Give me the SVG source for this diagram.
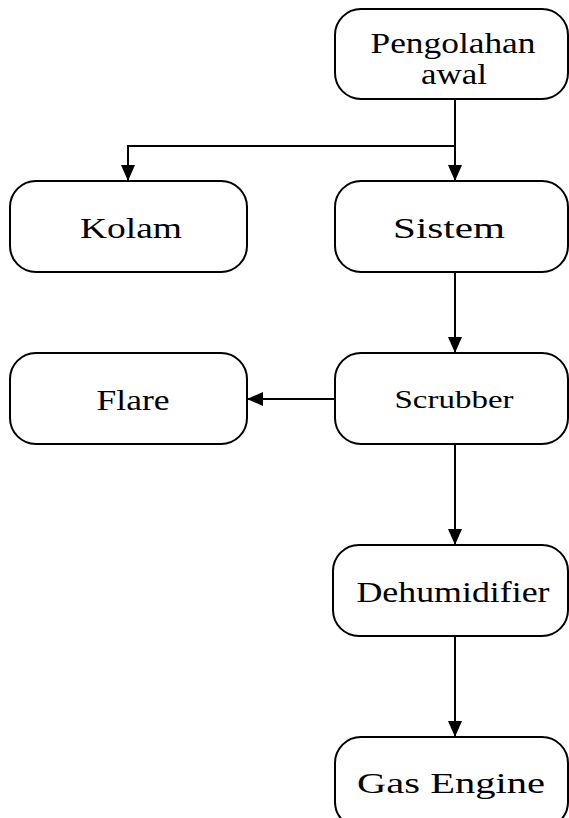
<svg xmlns="http://www.w3.org/2000/svg" width="569" height="818" viewBox="0 0 569 818">
<style>
.box{fill:#fff;stroke:#000;stroke-width:2}
.t{font-family:"Liberation Serif","Times New Roman",serif;font-size:30px;fill:#000;text-anchor:middle}
.s{font-size:25px}
.p{font-size:29px}
.c{fill:none;stroke:#000;stroke-width:2}
</style>
<defs>
<marker id="ah" markerWidth="16" markerHeight="16" viewBox="0 0 16 16" refX="16" refY="8" orient="auto" markerUnits="userSpaceOnUse">
<path d="M0,1 L16,8 L0,15 Z" fill="#000"/>
</marker>
</defs>
<g id="connectors">
<path class="c" d="M455,99 V181" marker-end="url(#ah)"/>
<path class="c" d="M455,146 H128 V181" marker-end="url(#ah)"/>
<path class="c" d="M455,272 V353" marker-end="url(#ah)"/>
<path class="c" d="M335,399 H247" marker-end="url(#ah)"/>
<path class="c" d="M455,444 V545" marker-end="url(#ah)"/>
<path class="c" d="M455,636 V737" marker-end="url(#ah)"/>
</g>
<g id="pengolahan">
<rect class="box" x="335" y="9" width="233" height="90" rx="26"/>
<text class="t p" x="453" y="53" textLength="165" lengthAdjust="spacingAndGlyphs">Pengolahan</text>
<text class="t p" x="454" y="84" textLength="66" lengthAdjust="spacingAndGlyphs">awal</text>
</g>
<g id="kolam">
<rect class="box" x="10" y="181" width="237" height="91" rx="26"/>
<text class="t" x="131" y="238" textLength="102" lengthAdjust="spacingAndGlyphs">Kolam</text>
</g>
<g id="sistem">
<rect class="box" x="335" y="181" width="233" height="91" rx="26"/>
<text class="t" x="449" y="238" textLength="112" lengthAdjust="spacingAndGlyphs">Sistem</text>
</g>
<g id="flare">
<rect class="box" x="10" y="353" width="237" height="91" rx="26"/>
<text class="t" x="133" y="410" textLength="73" lengthAdjust="spacingAndGlyphs">Flare</text>
</g>
<g id="scrubber">
<rect class="box" x="335" y="353" width="233" height="91" rx="26"/>
<text class="t s" x="454" y="408" textLength="119" lengthAdjust="spacingAndGlyphs">Scrubber</text>
</g>
<g id="dehumidifier">
<rect class="box" x="333" y="545" width="235" height="91" rx="26"/>
<text class="t" x="453" y="602" textLength="193" lengthAdjust="spacingAndGlyphs">Dehumidifier</text>
</g>
<g id="gasengine">
<rect class="box" x="335" y="737" width="233" height="91" rx="26"/>
<text class="t" x="451" y="793" textLength="188" lengthAdjust="spacingAndGlyphs">Gas Engine</text>
</g>
</svg>
